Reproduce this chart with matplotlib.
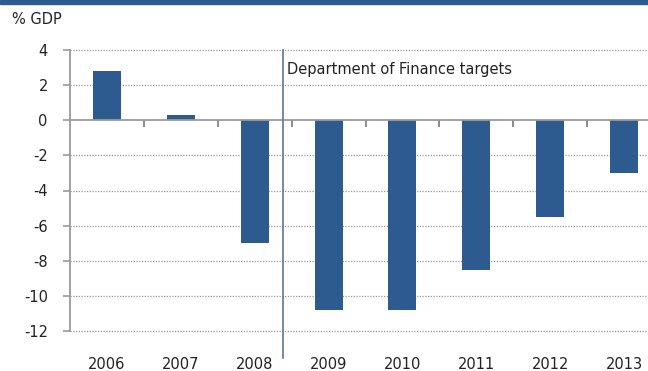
import matplotlib
matplotlib.use("Agg")
import matplotlib.pyplot as plt
from matplotlib.patches import Rectangle

years = ["2006", "2007", "2008", "2009", "2010", "2011", "2012", "2013"]
balance = [2.8, 0.3, -7.0, -10.8, -10.8, -8.5, -5.5, -3.0]
yticks = [4, 2, 0, -2, -4, -6, -8, -10, -12]
annotation = "Department of Finance targets"
ylabel = "% GDP"

BAR = "#2e5b8f"
GRAY = "#9a9a9a"
plt.rcParams["font.family"] = ["DejaVu Sans"]

fig = plt.figure(figsize=(6.48, 3.71), dpi=100)
fig.patches.append(Rectangle((0, 1 - 4 / 371), 1, 4 / 371, transform=fig.transFigure,
                             color=BAR, zorder=0))
ax = fig.add_axes([70 / 648, 1 - 331 / 371, 591 / 648, 281 / 371])

x = list(range(len(years)))
ax.bar(x, balance, width=0.38, color=BAR, zorder=3)

ax.set_xlim(-0.5, len(years) - 0.5)
ax.set_ylim(-12, 4)
ax.set_yticks(yticks)
ax.set_yticklabels([str(v) for v in yticks], fontsize=10.5, color="#222222")
for v in yticks:
    if v != 0:
        ax.axhline(v, color=GRAY, lw=0.9, ls=(0, (1, 1.2)), zorder=1, clip_on=False)
ax.axhline(0, color=GRAY, lw=1.3, zorder=4)

for s in ["top", "right", "bottom"]:
    ax.spines[s].set_visible(False)
ax.spines["left"].set_color(GRAY)
ax.spines["left"].set_linewidth(1.3)
ax.tick_params(axis="y", direction="out", length=5, width=1.2, color=GRAY, pad=11)

ax.set_xticks(x)
ax.set_xticklabels(years, fontsize=10.5, color="#222222")
ax.tick_params(axis="x", length=0, pad=18.5)

sec = ax.secondary_xaxis(0.75)
sec.set_xticks([i + 0.5 for i in x[:-1]])
sec.set_xticklabels([])
sec.tick_params(direction="in", length=5, width=1.2, color="#777777")
sec.spines["bottom"].set_visible(False)
sec.spines["top"].set_visible(False)

ax.plot([2.383, 2.383], [4, -13.55], color="#5a7898", lw=1.2, clip_on=False, zorder=5)
ax.text(2.44, 2.9, annotation, fontsize=10.5, color="#222222", va="center", ha="left")

fig.text(12 / 648, 1 - 20 / 371, ylabel, fontsize=10.5, color="#222222", va="center", ha="left")

fig.savefig("out.png", dpi=100)
